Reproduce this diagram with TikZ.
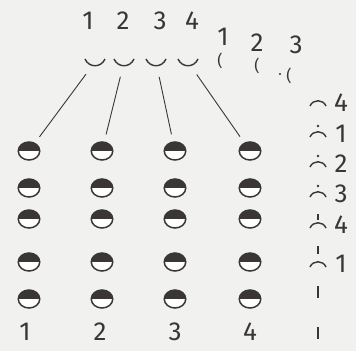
\documentclass[tikz,border=0pt]{standalone}
\usepackage{fontspec}
\setmainfont{Fira Sans}
\usetikzlibrary{calc,shapes.geometric}
\definecolor{ink}{RGB}{58,54,54}
\definecolor{paper}{RGB}{241,241,239}
\tikzset{
  num/.style={font=\fontsize{26}{30}\selectfont, text=ink, inner sep=0pt},
  paren/.style={font=\fontsize{16}{19}\selectfont, text=ink, inner sep=0pt},
  semi/.style={ellipse, draw=ink, line width=1.5pt, fill=white,
    minimum width=21.5pt, minimum height=18pt, inner sep=0pt, outer sep=8pt,
    path picture={\fill[ink] (path picture bounding box.north west) rectangle (path picture bounding box.east);}},
  cupnode/.style={circle, minimum size=30pt, inner sep=0pt},
  link/.style={draw=ink, line width=0.9pt},
  stroke/.style={draw=ink, line width=1.4pt}
}
\begin{document}
\begin{tikzpicture}[x=1pt, y=-1pt]
  % papier
  \fill[paper] (0,0) rectangle (356,351);
  % nombres du haut
  \foreach \i/\x in {1/88,2/123,3/160,4/192}
    \node[num] (t\i) at (\x,21) {\i};
  % arcs sous les nombres
  \foreach \i/\x in {1/95,2/124,3/156,4/188}{
    \node[cupnode] (u\i) at (\x,62) {};
    \draw[stroke] ($(u\i)+(-10,-3)$) .. controls ($(u\i)+(-6,6)$) and ($(u\i)+(6,6)$) .. ($(u\i)+(10,-3)$);
  }
  % grille des demi-cercles
  \foreach \c/\x/\l in {1/29/25,2/102/100,3/175/175,4/250/250}{
    \foreach \r/\y in {1/151,2/188,3/219,4/262,5/299}
      \node[semi] (p\c\r) at (\x,\y) {};
    \node[num] (n\c) at (\l,332) {\c};
  }
  % traits
  \foreach \i in {1,...,4}
    \draw[link] (u\i) -- (p\i1);
  % en haut a droite
  \node[num] (s1) at (223,37) {1};
  \node[num] (s2) at (257,43) {2};
  \node[num] (s3) at (296,45) {3};
  \node[paren] (q1) at (220,61) {(};
  \node[paren] (q2) at (257,66) {(};
  \node[paren] (q3) at (289,76) {(};
  \fill[ink] (280,74) circle (1.1);
  % colonne de droite
  \foreach \k/\y/\d in {1/103/4,2/134/1,3/164/2,4/194/3,5/225/4,6/264/1}{
    \node[num] (r\k) at (341,\y) {\d};
    \draw[stroke] ($(r\k)+(-31,3)$) .. controls ($(r\k)+(-28,-4)$) and ($(r\k)+(-18,-4)$) .. ($(r\k)+(-15,3)$);
  }
  \foreach \k in {2,3,4}
    \fill[ink] ($(r\k)+(-23,-8)$) circle (1.3);
  \draw[stroke] ($(r5)+(-23,-11)$) -- ($(r5)+(-23,-5)$);
  \draw[stroke] ($(r6)+(-23,-18)$) -- ($(r6)+(-23,-10)$);
  \draw[stroke] (318,286) -- (318,298);
  \draw[stroke] (318,327) -- (318,339);
\end{tikzpicture}
\end{document}
